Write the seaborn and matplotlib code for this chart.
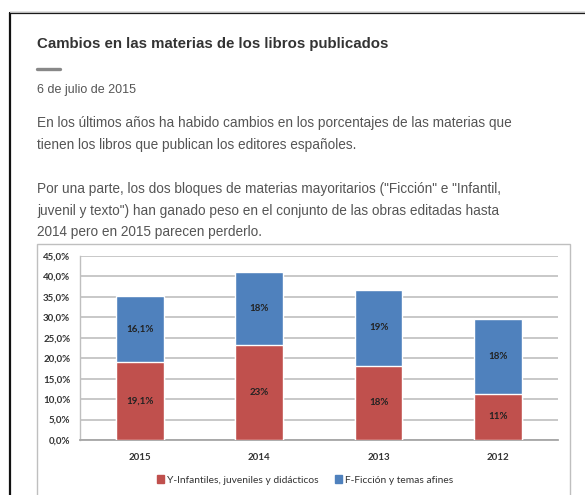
import matplotlib
matplotlib.use("Agg")
import matplotlib.pyplot as plt
import seaborn as sns
import pandas as pd
from matplotlib.patches import Patch, Rectangle
from matplotlib.lines import Line2D

# data
years = ["2015", "2014", "2013", "2012"]
infantil = [19.1, 23.2, 18.2, 11.3]
ficcion = [16.1, 18.0, 18.6, 18.4]
infantil_labels = ["19,1%", "23%", "18%", "11%"]
ficcion_labels = ["16,1%", "18%", "19%", "18%"]
yticks = [0, 5, 10, 15, 20, 25, 30, 35, 40, 45]
series_names = ["Y-Infantiles, juveniles y didácticos", "F-Ficción y temas afines"]

RED = "#C0504D"
BLUE = "#4F81BD"

df = pd.DataFrame({"year": years, "infantil": infantil, "ficcion": ficcion})
df["total"] = df["infantil"] + df["ficcion"]

sns.set_style("white")
plt.rcParams["font.family"] = ["Liberation Sans", "DejaVu Sans"]

W, H = 585, 495
fig = plt.figure(figsize=(W / 100, H / 100), dpi=100)

def fx(px):
    return px / W

def fy(py):
    return 1 - py / H

# card frame (black) and chart box (gray)
fig.add_artist(Line2D([fx(10), fx(10)], [0, fy(13)], color="#111111", lw=1.6))
fig.add_artist(Line2D([fx(10), 1], [fy(13), fy(13)], color="#111111", lw=1.6))
fig.add_artist(Line2D([fx(10), 1], [fy(11.5), fy(11.5)], color="#bbbbbb", lw=0.8))
fig.add_artist(Rectangle((fx(37), fy(520)), fx(570) - fx(37), fy(244) - fy(520),
                         transform=fig.transFigure, fill=False, ec="#BFBFBF", lw=1.0))

# article text
fig.text(fx(37), fy(44), "Cambios en las materias de los libros publicados",
         fontsize=10.8, fontweight="bold", color="#333333", va="center")
fig.add_artist(Line2D([fx(37), fx(60)], [fy(69), fy(69)], color="#888888", lw=2.4))
fig.text(fx(37), fy(90), "6 de julio de 2015", fontsize=9.0, color="#555555", va="center")
para = [
    (123, "En los últimos años ha habido cambios en los porcentajes de las materias que"),
    (145, "tienen los libros que publican los editores españoles."),
    (189, "Por una parte, los dos bloques de materias mayoritarios (\"Ficción\" e \"Infantil,"),
    (211, "juvenil y texto\") han ganado peso en el conjunto de las obras editadas hasta"),
    (232, "2014 pero en 2015 parecen perderlo."),
]
for py, line in para:
    fig.text(fx(37), fy(py), line, fontsize=9.85, color="#555555", va="center")

# chart
ax = fig.add_axes([fx(80), fy(440), fx(557.7) - fx(80), fy(256) - fy(440)])
sns.barplot(data=df, x="year", y="total", order=years, color=BLUE, width=0.4,
            saturation=1, ax=ax, zorder=3)
sns.barplot(data=df, x="year", y="infantil", order=years, color=RED, width=0.4,
            saturation=1, ax=ax, zorder=3)

for i in range(len(years)):
    ax.text(i, infantil[i] / 2, infantil_labels[i], ha="center", va="center",
            fontsize=7.0, fontweight="bold", color="#222222", family="Lato", zorder=4)
    ax.text(i, infantil[i] + ficcion[i] / 2, ficcion_labels[i], ha="center", va="center",
            fontsize=7.0, fontweight="bold", color="#222222", family="Lato", zorder=4)

ax.set_ylim(0, 45)
ax.set_xlim(-0.5, 3.5)
ax.set_yticks(yticks)
ax.set_yticklabels([f"{v:.1f}%".replace(".", ",") for v in yticks])
ax.yaxis.grid(True, color="#C8C8C8", lw=1.4, zorder=0)
ax.set_axisbelow(True)
ax.set_xlabel("")
ax.set_ylabel("")
for s in ["top", "right"]:
    ax.spines[s].set_visible(False)
ax.spines["left"].set_color("#BFBFBF")
ax.spines["bottom"].set_color("#A6A6A6")
ax.spines["left"].set_linewidth(1.0)
ax.spines["bottom"].set_linewidth(1.3)
ax.tick_params(axis="y", length=3, color="#A6A6A6", labelsize=7.0, labelcolor="#333333", pad=4)
ax.tick_params(axis="x", length=0, labelsize=7.0, labelcolor="#333333", pad=9)
ax.set_xticks([-0.5, 0.5, 1.5, 2.5, 3.5], minor=True)
ax.tick_params(axis="x", which="minor", length=3, color="#A6A6A6")
for lab in ax.get_xticklabels() + ax.get_yticklabels():
    lab.set_family("Lato")
    lab.set_fontweight("bold")

handles = [Patch(color=RED, label=series_names[0]), Patch(color=BLUE, label=series_names[1])]
fig.legend(handles=handles, loc="center", bbox_to_anchor=(fx(305), fy(480)), ncol=2,
           frameon=False, prop={"family": "Lato", "size": 7.4}, handlelength=0.7,
           handleheight=0.7, handletextpad=0.3, columnspacing=1.6, labelcolor="#333333")

fig.savefig("out.png", dpi=100)
